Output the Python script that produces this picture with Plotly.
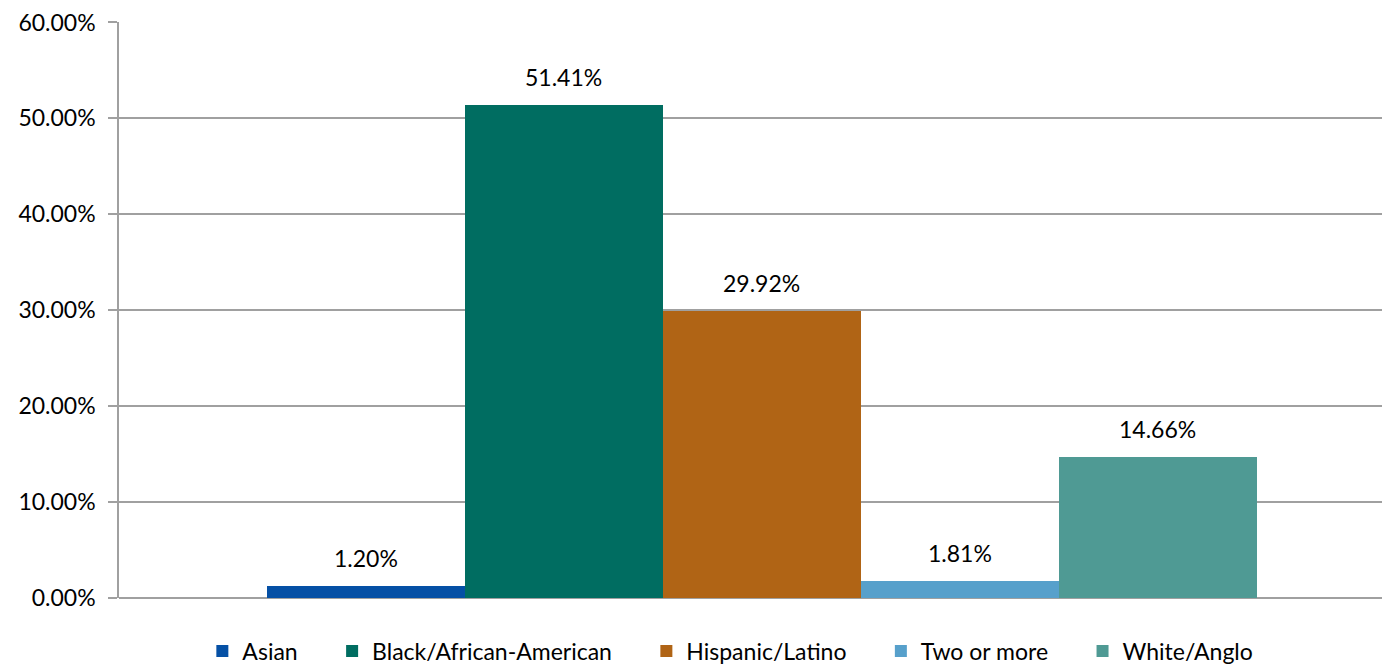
import plotly.graph_objects as go

categories = ["Asian", "Black/African-American", "Hispanic/Latino", "Two or more", "White/Anglo"]
values = [1.20, 51.41, 29.92, 1.81, 14.66]
colors = ["#0550A5", "#006D61", "#B06415", "#57A0CB", "#4F9A94"]
tick_vals = [0, 10, 20, 30, 40, 50, 60]
tick_text = ["0.00%", "10.00%", "20.00%", "30.00%", "40.00%", "50.00%", "60.00%"]

FONT = "Lato, Open Sans, sans-serif"
FS = 23
PAD = "\u00a0" * 5

fig = go.Figure()
for i, (name, v, c) in enumerate(zip(categories, values, colors)):
    legend_name = name + (PAD if i < len(categories) - 1 else "")
    fig.add_trace(go.Bar(
        x=[name], y=[v], name=legend_name,
        marker=dict(color=c, line=dict(width=0)),
        width=1,
    ))
    fig.add_annotation(
        x=name, y=v, text=f"{v:.2f}%", showarrow=False,
        xref="x", yref="y", yanchor="bottom", yshift=12,
        font=dict(size=FS, color="#000000", family=FONT),
    )

fig.update_layout(
    width=1382, height=658,
    margin=dict(l=111, r=0, t=14, b=68, autoexpand=False),
    paper_bgcolor="white", plot_bgcolor="white",
    barmode="overlay", bargap=0,
    font=dict(family=FONT, size=FS, color="#000000"),
    showlegend=True,
    legend=dict(orientation="h", x=0.481, xanchor="center", y=-0.092, yanchor="middle",
                font=dict(size=FS, family=FONT), itemwidth=30, traceorder="normal"),
    xaxis=dict(range=[-1.247, 5.172], showticklabels=False, showline=False,
               showgrid=False, zeroline=False, automargin=False),
    yaxis=dict(range=[0, 60.05], tickvals=tick_vals, ticktext=tick_text,
               showgrid=True, gridcolor="#A0A0A0", gridwidth=1.5,
               showline=True, linecolor="#A0A0A0", linewidth=1.5,
               ticks="outside", ticklen=9, tickcolor="#A0A0A0", tickwidth=1.5,
               zeroline=True, zerolinecolor="#A0A0A0", zerolinewidth=1.5,
               tickfont=dict(size=FS, family=FONT), ticklabelstandoff=8,
               ticklabeloverflow="allow", automargin=False),
)

fig.write_html("out.html")
